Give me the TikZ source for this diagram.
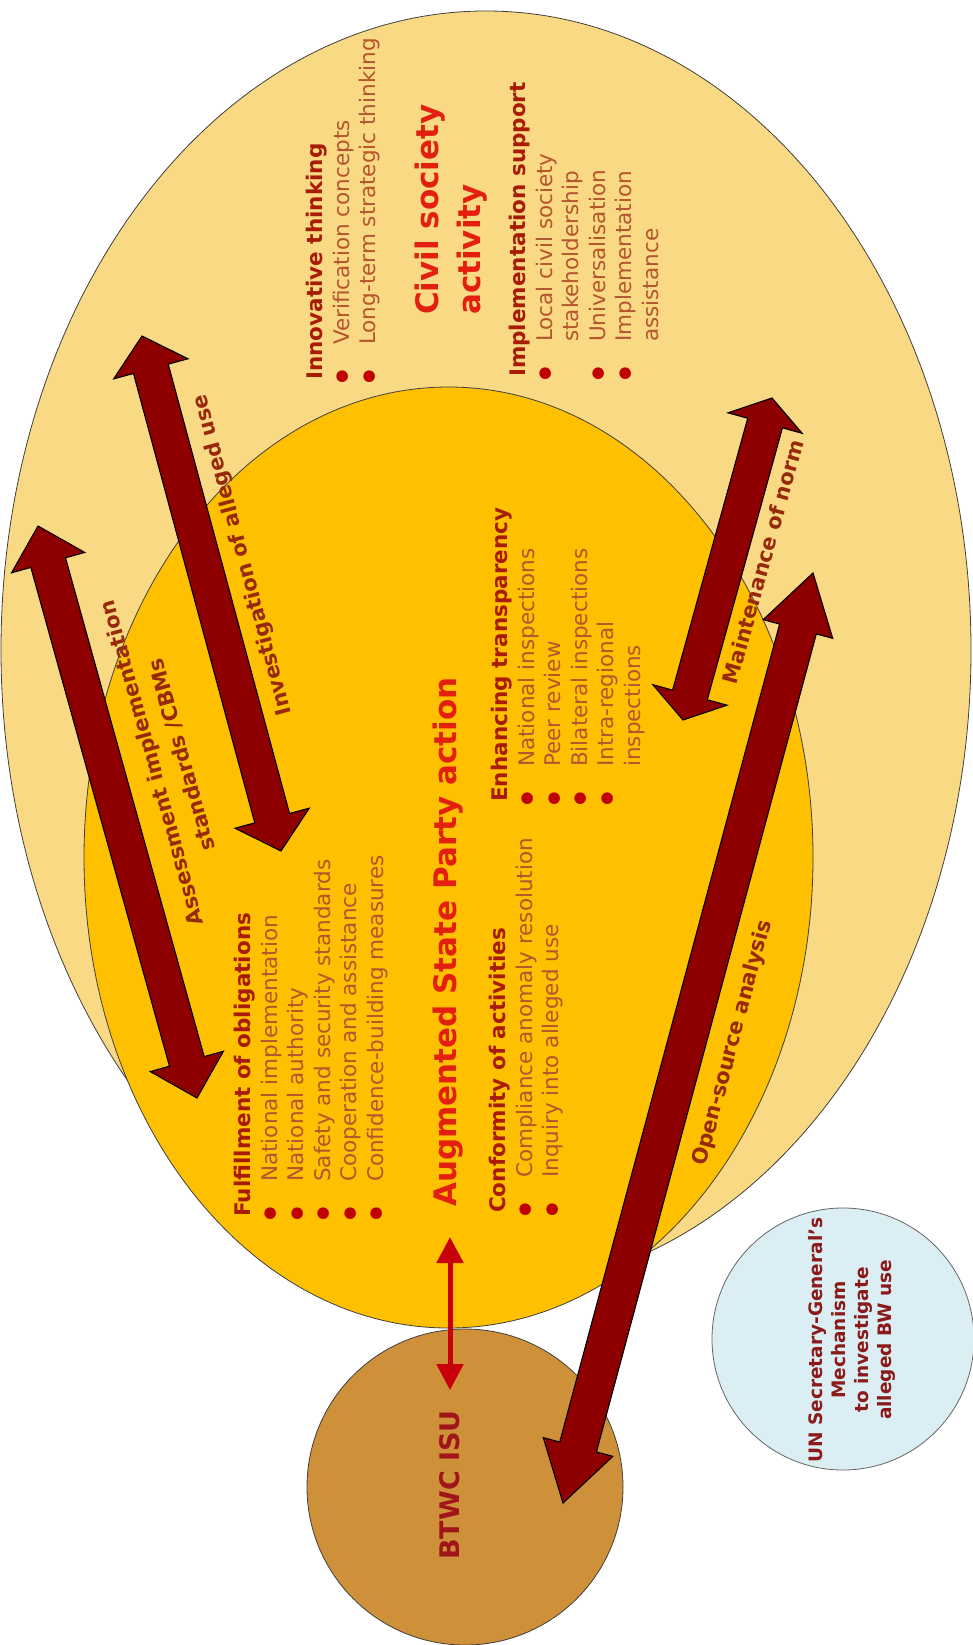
\documentclass[tikz,border=0pt]{standalone}
\usepackage{fontspec}
\setmainfont{DejaVu Sans}
\usetikzlibrary{calc,arrows.meta,shapes.geometric}
\definecolor{outerY}{HTML}{F9D983}
\definecolor{innerY}{HTML}{FFC000}
\definecolor{btwcC}{HTML}{CE9038}
\definecolor{unC}{HTML}{DBEEF4}
\definecolor{arrowR}{HTML}{8E0000}
\definecolor{titleR}{HTML}{E3200F}
\definecolor{headR}{HTML}{A81C05}
\definecolor{itemR}{HTML}{B4552E}
\definecolor{bulR}{HTML}{C00000}
\definecolor{labR}{HTML}{962A0A}
\definecolor{linkR}{HTML}{C8000A}
\definecolor{btwcT}{HTML}{A0151A}
\definecolor{unT}{HTML}{8B1A1A}
\newcommand\itembul{\makebox[35pt][l]{\hspace*{-9pt}\raisebox{-8.5pt}{\textcolor{bulR}{\fontsize{40}{26}\selectfont •}}}}
\newcommand\hd[1]{\textcolor{headR}{\bfseries #1}}
\newcommand\contline{\hspace*{35pt}}
% name, tipA, tipB, shaft half width, head half width, head length
\newcommand\drawblockarrow[6]{%
  \coordinate (#1ha) at ($(#2)!#6!(#3)$);
  \coordinate (#1hb) at ($(#3)!#6!(#2)$);
  \draw[blockarr] (#2) -- ($(#1ha)!#5!90:(#3)$) -- ($(#1ha)!#4!90:(#3)$)
    -- ($(#1hb)!#4!-90:(#2)$) -- ($(#1hb)!#5!-90:(#2)$) -- (#3)
    -- ($(#1hb)!#5!90:(#2)$) -- ($(#1hb)!#4!90:(#2)$)
    -- ($(#1ha)!#4!-90:(#3)$) -- ($(#1ha)!#5!-90:(#3)$) -- cycle;
}
\begin{document}
\begin{tikzpicture}[x=1pt,y=-1pt,
  blk/.style={rotate=90, align=left, inner sep=0pt, text=itemR, font=\fontsize{21.5}{26.5}\selectfont},
  ttl/.style={rotate=90, align=left, inner sep=0pt, text=titleR, font=\bfseries\fontsize{31}{42}\selectfont},
  arrlabel/.style={inner sep=0pt, text=labR, align=center, font=\bfseries\fontsize{21}{31}\selectfont},
  blockarr/.style={fill=arrowR, draw=black, line width=1.1pt, line join=miter},
  region/.style={draw=black!75, line width=0.8pt, inner sep=0pt},
  linkarrow/.style={draw=linkR, line width=5pt, arrows={Triangle[width=26pt,length=26pt]-Triangle[width=26pt,length=26pt]}}
]
\useasboundingbox (0,0) rectangle (973,1645);
\fill[white] (0,0) rectangle (973,1645);

% regions
\node[region, ellipse, fill=outerY, minimum width=970pt, minimum height=1278pt] (civil) at (486,650) {};
\node[region, ellipse, fill=innerY, minimum width=729pt, minimum height=941pt] (state) at (448.5,857.5) {};
\node[region, circle, fill=btwcC, minimum size=316pt] (btwc) at (465,1487) {};
\node[region, circle, fill=unC, draw=black!60, minimum size=262pt] (un) at (843,1339) {};

% civil society texts
\node[ttl, anchor=north west] (civtitle) at (415,315) {Civil society\\activity};
\node[blk, anchor=north west] (innov) at (306,380) {\hd{Innovative thinking}\\
  \itembul Verification concepts\\
  \itembul Long-term strategic thinking};
\node[blk, anchor=north west] (impl) at (509,377) {\hd{Implementation support}\\
  \itembul Local civil society\\
  \contline stakeholdership\\
  \itembul Universalisation\\
  \itembul Implementation\\
  \contline assistance};

% state party texts
\node[ttl, anchor=north west] (augtitle) at (433,1207) {Augmented State Party action};
\node[blk, anchor=north west] (fulfil) at (234,1217) {\hd{Fulfillment of obligations}\\
  \itembul National implementation\\
  \itembul National authority\\
  \itembul Safety and security standards\\
  \itembul Cooperation and assistance\\
  \itembul Confidence-building measures};
\node[blk, anchor=north west] (conform) at (489,1213) {\hd{Conformity of activities}\\
  \itembul Compliance anomaly resolution\\
  \itembul Inquiry into alleged use};
\node[blk, anchor=north west] (enhance) at (491,802) {\hd{Enhancing transparency}\\
  \itembul National inspections\\
  \itembul Peer review\\
  \itembul Bilateral inspections\\
  \itembul Intra-regional\\
  \contline inspections};

% BTWC and UN
\node[rotate=90, inner sep=0pt, text=btwcT, font=\bfseries\fontsize{27}{32}\selectfont] (btwclabel) at (450,1485) {BTWC ISU};
\node[rotate=90, inner sep=0pt, align=center, text=unT, font=\bfseries\fontsize{18.5}{23}\selectfont] (unlabel) at (852,1340) {UN Secretary-General's\\Mechanism\\to investigate\\alleged BW use};

\draw[linkarrow, shorten <=20pt, shorten >=30pt] (btwclabel.east) -- (btwclabel.east |- augtitle.west);

% block arrows
\coordinate (assessTop) at (38,526);
\coordinate (assessBot) at (197,1098);
\coordinate (investTop) at (142,336);
\coordinate (investBot) at (281,851);
\coordinate (normTop) at (772,398);
\coordinate (normBot) at (683,720);
\coordinate (osTop) at (813,573);
\coordinate (osBot) at (563,1503);
\drawblockarrow{aa}{assessTop}{assessBot}{18pt}{38pt}{38pt}
\drawblockarrow{ia}{investTop}{investBot}{18pt}{38.5pt}{34pt}
\drawblockarrow{na}{normTop}{normBot}{18pt}{38.5pt}{26pt}
\drawblockarrow{oa}{osTop}{osBot}{19pt}{36pt}{58pt}

\node[arrlabel, rotate=105.5] (assesslabel) at (167,759) {Assessment implementation\\standards /CBMs};
\node[arrlabel, rotate=105] (investlabel) at (243,555) {Investigation of alleged use};
\node[arrlabel, rotate=74.5] (normlabel) at (763,562) {Maintenance of norm};
\node[arrlabel, rotate=75] (oslabel) at (733,1043) {Open-source analysis};
\end{tikzpicture}
\end{document}
